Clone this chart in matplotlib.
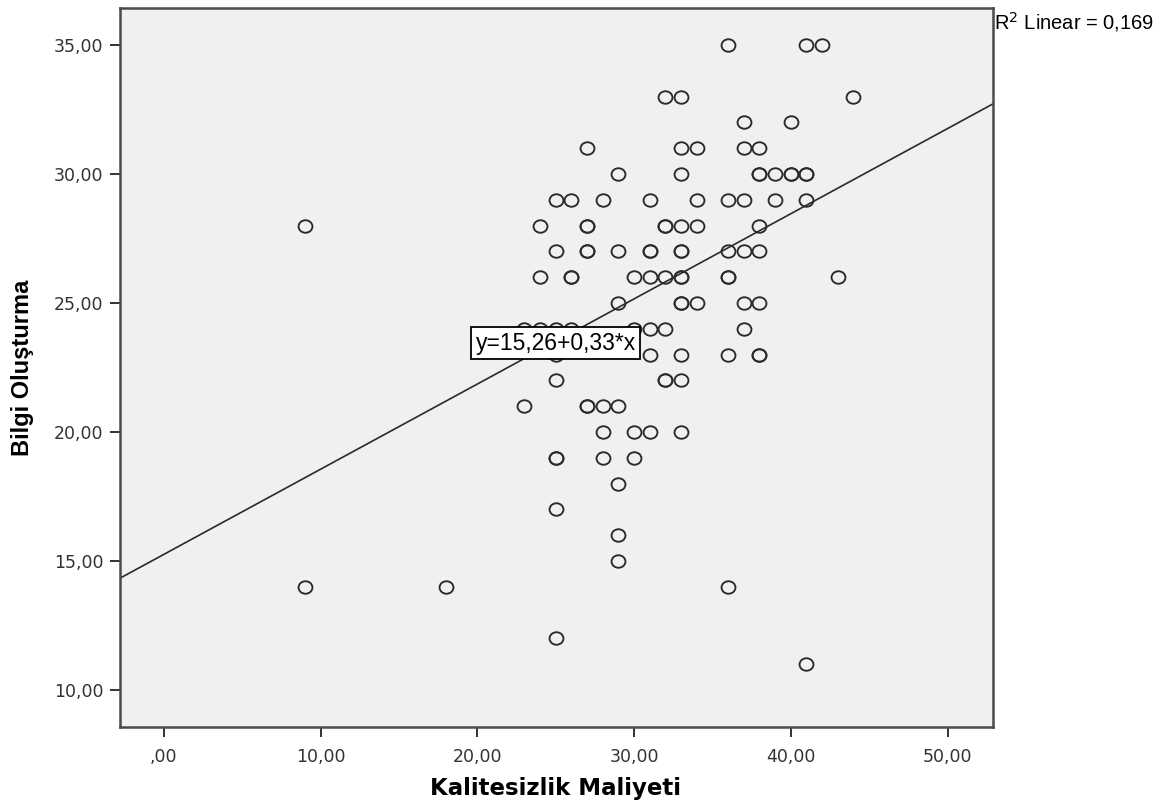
import matplotlib.pyplot as plt
import numpy as np
from matplotlib.path import Path

# Kalitesizlik Maliyeti (x) / Bilgi Olusturma (y)
x_vals = [36, 41, 42,
          32, 33, 44,
          37, 40,
          27, 33, 34, 37, 38,
          29, 33, 38, 38, 39, 40, 40, 41, 41,
          25, 26, 28, 31, 34, 36, 37, 39, 41,
          9, 24, 27, 27, 32, 32, 33, 34, 38,
          25, 27, 27, 29, 31, 31, 33, 33, 36, 37, 38,
          24, 26, 26, 30, 31, 32, 33, 33, 36, 36, 43,
          29, 33, 33, 34, 37, 38,
          23, 24, 25, 26, 30, 31, 32, 37,
          25, 31, 33, 36, 38, 38,
          25, 32, 32, 33,
          23, 27, 27, 28, 29,
          28, 30, 31, 33,
          25, 25, 28, 30,
          29, 25, 29, 29,
          9, 18, 36,
          25, 41]
y_vals = [35, 35, 35,
          33, 33, 33,
          32, 32,
          31, 31, 31, 31, 31,
          30, 30, 30, 30, 30, 30, 30, 30, 30,
          29, 29, 29, 29, 29, 29, 29, 29, 29,
          28, 28, 28, 28, 28, 28, 28, 28, 28,
          27, 27, 27, 27, 27, 27, 27, 27, 27, 27, 27,
          26, 26, 26, 26, 26, 26, 26, 26, 26, 26, 26,
          25, 25, 25, 25, 25, 25,
          24, 24, 24, 24, 24, 24, 24, 24,
          23, 23, 23, 23, 23, 23,
          22, 22, 22, 22,
          21, 21, 21, 21, 21,
          20, 20, 20, 20,
          19, 19, 19, 19,
          18, 17, 16, 15,
          14, 14, 14,
          12, 11]

intercept = 15.26
slope = 0.33

x_ticks = [0, 10, 20, 30, 40, 50]
x_tick_labels = [',00', '10,00', '20,00', '30,00', '40,00', '50,00']
y_ticks = [10, 15, 20, 25, 30, 35]
y_tick_labels = ['10,00', '15,00', '20,00', '25,00', '30,00', '35,00']

# SPSS circles are a little wider than tall
circ = Path.unit_circle()
ellipse = Path(circ.vertices * np.array([1.0, 0.9]), circ.codes)

fig = plt.figure(figsize=(11.74, 8.06), dpi=100)
ax = fig.add_axes([0.1022, 0.098, 0.7436, 0.892])
ax.set_facecolor('#f0f0f0')

xmin, xmax = -2.8, 52.9
ax.set_xlim(xmin, xmax)
ax.set_ylim(8.57, 36.43)

ax.plot(x_vals, y_vals, marker=ellipse, ms=10, mfc='none', mec='#2a2a2a', mew=1.35, ls='none')

lx = np.array([xmin, xmax])
ax.plot(lx, intercept + slope * lx, color='#2a2a2a', lw=1.2)

ax.text(25.0, 23.45, 'y=15,26+0,33*x', ha='center', va='center', fontsize=16.5,
        family='Liberation Sans',
        bbox=dict(boxstyle='square,pad=0.2', fc='white', ec='black', lw=1.3))

fig.text(0.847, 1 - 10 / 806, 'R$^2$ Linear = 0,169', ha='left', va='top', fontsize=14.5,
         family='Liberation Sans')

ax.set_xticks(x_ticks)
ax.set_xticklabels(x_tick_labels)
ax.set_yticks(y_ticks)
ax.set_yticklabels(y_tick_labels)
ax.tick_params(direction='out', length=7, width=1.4, labelsize=12.5, colors='#333333', pad=5)
ax.tick_params(axis='x', pad=8)

for s in ax.spines.values():
    s.set_color('#4a4a4a')
    s.set_linewidth(1.8)

ax.set_xlabel('Kalitesizlik Maliyeti', fontsize=16.5, fontweight='bold',
              family='DejaVu Sans', va='center')
ax.xaxis.set_label_coords(0.4994, -0.085)
ax.set_ylabel('Bilgi Oluşturma', fontsize=17, fontweight='bold',
              family='Liberation Sans', va='center', ha='center')
ax.yaxis.set_label_coords(-0.112, 0.499)

plt.savefig('out.png', dpi=100)
